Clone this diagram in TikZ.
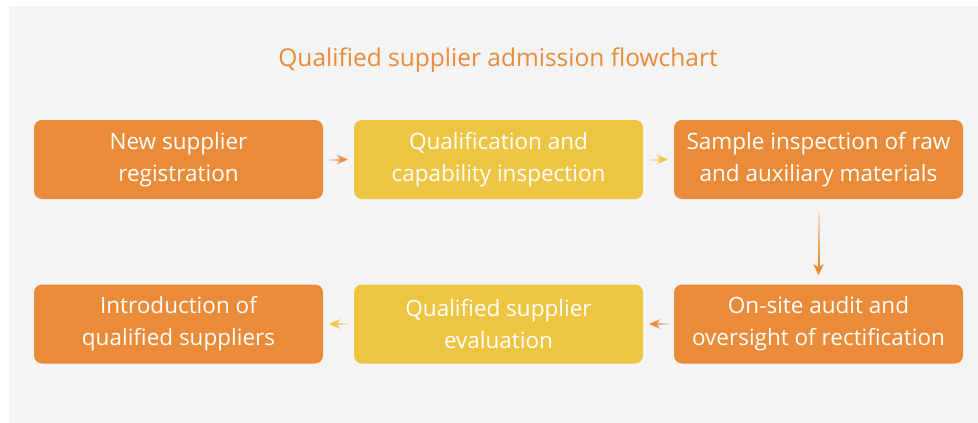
\documentclass[tikz,border=0pt]{standalone}
\usepackage{fontspec}
\setmainfont{Open Sans}
\usetikzlibrary{fadings,arrows.meta,calc}
\definecolor{bgc}{HTML}{F4F4F4}
\definecolor{orng}{HTML}{E98B38}
\definecolor{yllw}{HTML}{EEC443}
\tikzfading[name=fE, left color=transparent!100, right color=transparent!0]
\tikzfading[name=fW, left color=transparent!0, right color=transparent!100]
\tikzfading[name=fS, top color=transparent!100, bottom color=transparent!0]
\tikzset{
  box/.style={rounded corners=8pt, minimum width=289pt, minimum height=79pt, inner sep=0pt,
    text=white, align=center, font=\fontsize{22.5}{32}\selectfont},
  obox/.style={box, fill=orng},
  ybox/.style={box, fill=yllw},
  conn/.style={line width=2pt, -{Stealth[length=11pt,width=10pt,inset=3pt]}, shorten <=4pt, shorten >=6pt, fit fading=false},
}
\begin{document}
\begin{tikzpicture}[x=1pt,y=-1pt]
\useasboundingbox (0,0) rectangle (978,423);
\fill[bgc] (9,6) rectangle (978,423);
\node[text=orng, font=\fontsize{24.5}{28}\selectfont] (title) at (498,60) {Qualified supplier admission flowchart};
\node[obox] (b1) at (178.5,159.5) {New supplier\\registration};
\node[ybox] (b2) at (498.5,159.5) {Qualification and\\capability inspection};
\node[obox] (b3) at (818.5,159.5) {Sample inspection of raw\\and auxiliary materials};
\node[obox] (b4) at (818.5,324) {On-site audit and\\oversight of rectification};
\node[ybox] (b5) at (498.5,324) {Qualified supplier\\evaluation};
\node[obox] (b6) at (178.5,324) {Introduction of\\qualified suppliers};
\draw[conn, orng, path fading=fE,
  fading transform={shift={($(b1.east)!0.387!(b2.west)$)}, xscale=0.36}] (b1.east) -- (b2.west);
\draw[conn, yllw, path fading=fE,
  fading transform={shift={($(b2.east)!0.387!(b3.west)$)}, xscale=0.36}] (b2.east) -- (b3.west);
\draw[conn, orng, path fading=fS, shorten <=12pt, shorten >=9pt,
  fading transform={shift={($(b3.south)!0.39!(b4.north)$)}, yscale=1.1}] (b3.south) -- (b4.north);
\draw[conn, orng, path fading=fW,
  fading transform={shift={($(b4.west)!0.387!(b5.east)$)}, xscale=0.36}] (b4.west) -- (b5.east);
\draw[conn, yllw, path fading=fW,
  fading transform={shift={($(b5.west)!0.387!(b6.east)$)}, xscale=0.36}] (b5.west) -- (b6.east);
\end{tikzpicture}
\end{document}
